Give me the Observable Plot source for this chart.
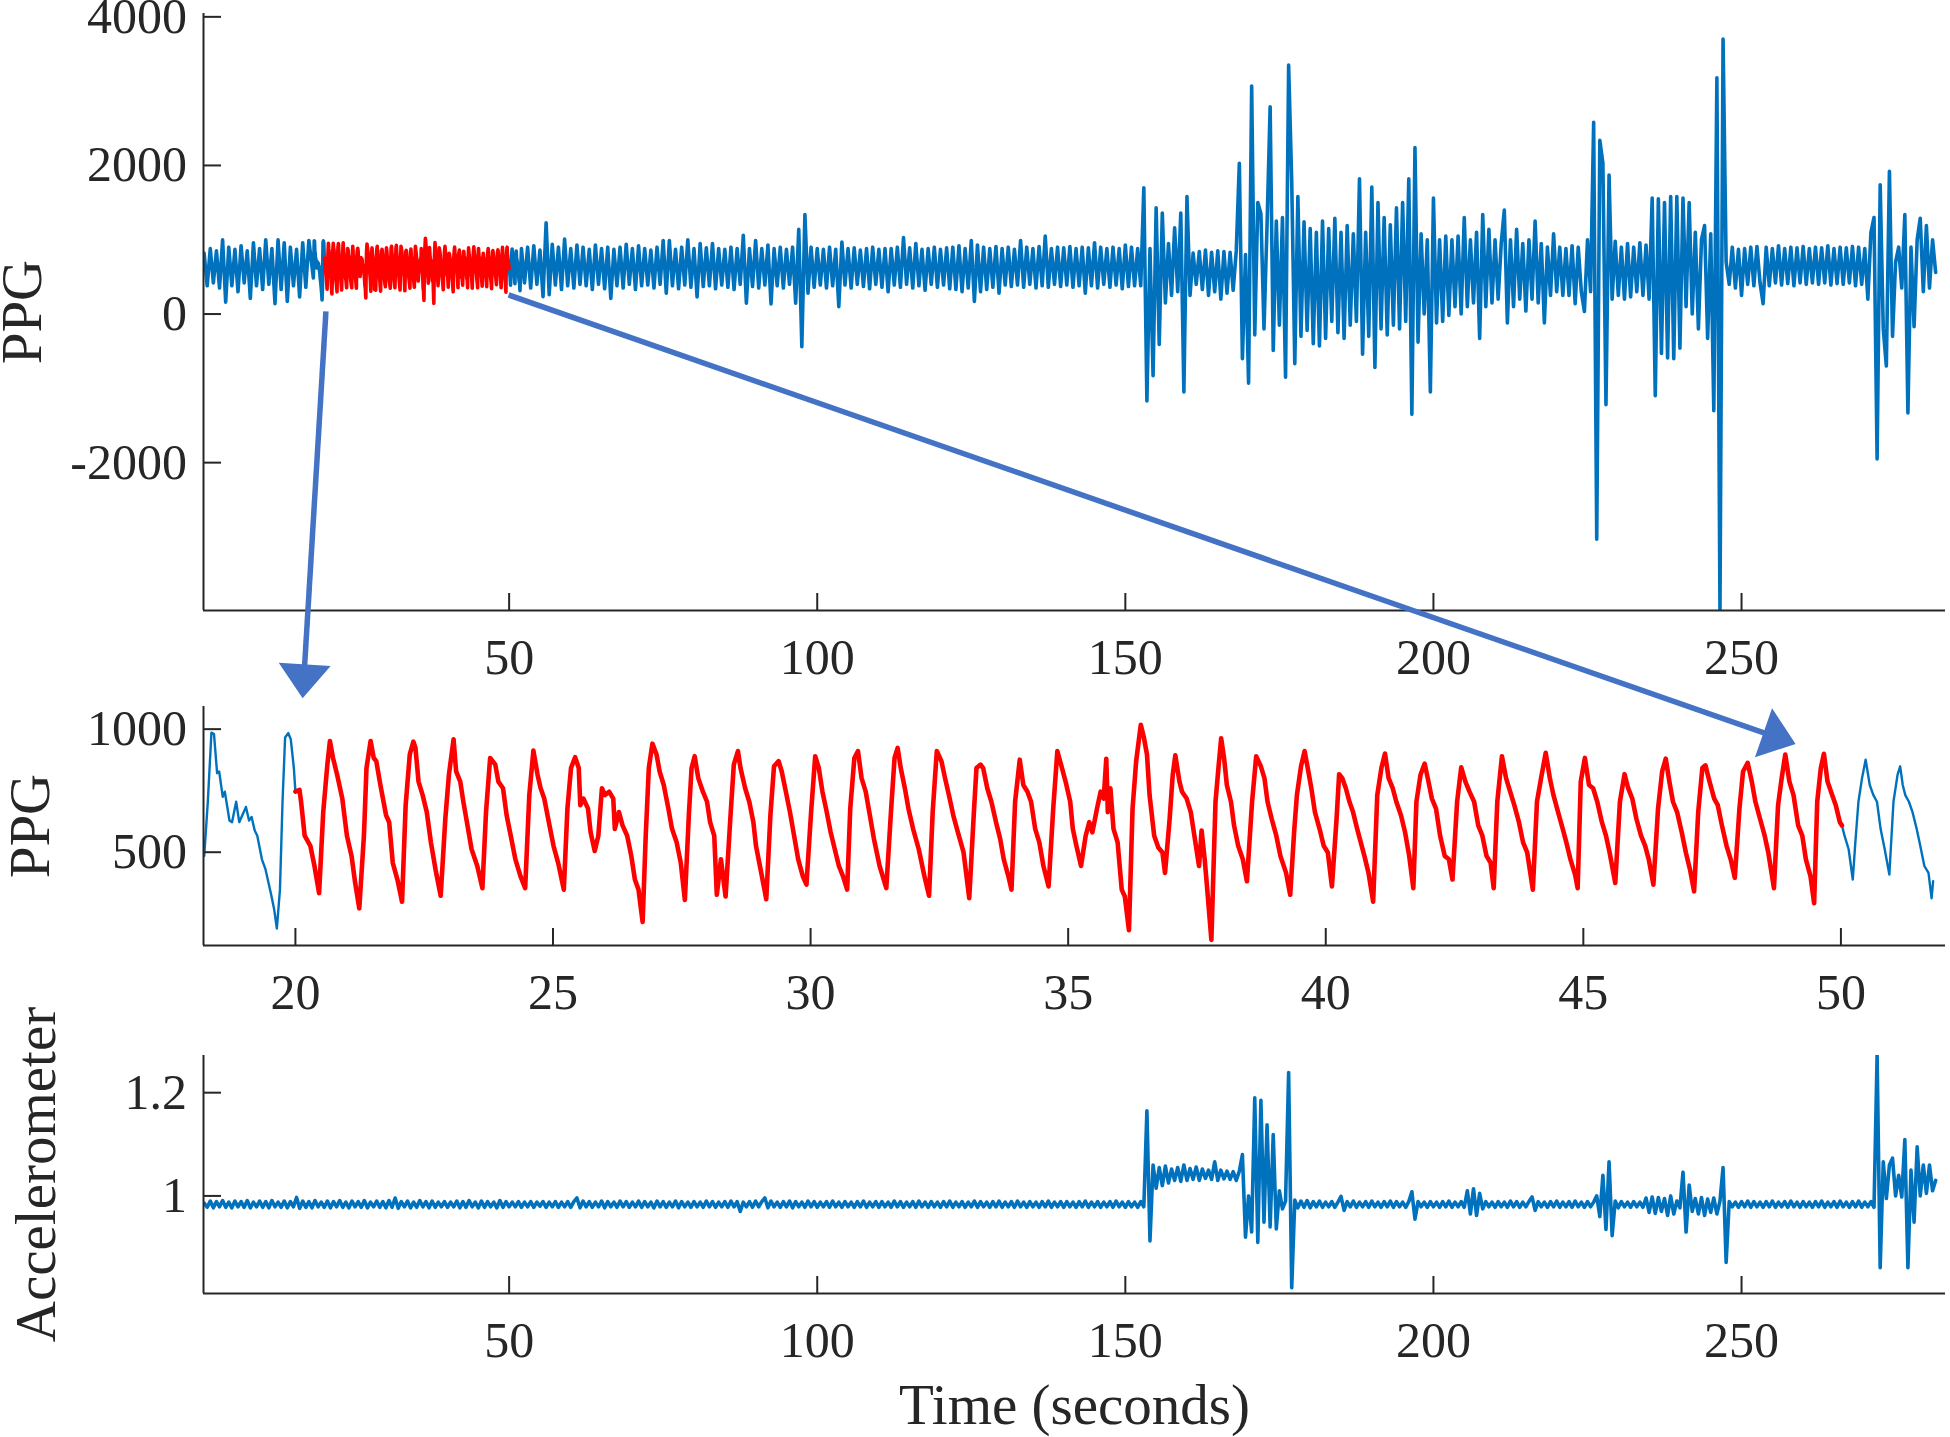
<!DOCTYPE html>
<html>
<head>
<meta charset="utf-8">
<script src="https://cdn.jsdelivr.net/npm/d3@7"></script>
<script src="https://cdn.jsdelivr.net/npm/@observablehq/plot@0.6"></script>
<style>
html, body { margin: 0; padding: 0; background: #ffffff; overflow: hidden; }
#wrap { position: relative; width: 1950px; height: 1437px; background: #ffffff; }
</style>
</head>
<body>
<div id="wrap"></div>
<script>
// ---------------- DATA ----------------
const ppgTopAStart = 0.5;
const ppgTopBStart = 52;
const ppgStep = 0.5;
const ppgTopA = [820,380,880,420,850,350,1000,160,900,380,870,300,920,420,850,210,960,380,880,330,
  1000,400,880,140,1000,330,960,170,900,380,870,230,960,360,990];
const ppgTopB = [
  880,420,900,350,920,400,860,233,1227,260,940,390,900,330,1010,380,880,350,930,400,
  900,380,870,330,930,400,880,340,900,210,870,380,900,350,940,400,880,330,920,380,
  880,390,860,350,900,400,990,280,990,380,870,340,900,390,1000,360,880,230,950,370,
  890,380,950,340,880,390,870,360,900,330,880,400,1060,145,880,370,990,350,880,390,
  930,135,880,380,900,350,870,400,900,145,1140,-440,1340,280,900,360,880,390,870,350,
  900,380,870,100,970,390,880,350,890,400,860,370,880,340,900,400,870,360,880,300,
  880,390,900,360,1030,400,890,350,950,380,870,320,880,400,900,360,870,390,890,340,
  900,330,920,300,880,350,990,170,930,300,900,330,880,360,910,280,880,390,900,370,
  870,390,990,360,900,400,880,350,910,380,1050,360,880,400,900,370,890,390,910,360,
  880,380,900,280,890,380,960,350,900,400,880,360,900,390,880,340,930,370,900,380,
  880,380,1700,-1170,880,-830,1430,-410,1360,150,950,250,1160,300,1360,-1050,1580,250,820,400,
  840,330,860,250,830,300,850,200,840,280,830,320,850,2030,-600,800,-930,3070,-280,1500,
  1350,-200,1200,2790,-490,1250,-150,1300,-850,3350,1790,-670,1580,-300,1240,-220,1150,-400,1100,-430,
  1250,-330,1150,-100,1290,-250,1100,-330,1190,-150,1080,-100,1820,-540,1100,-300,1710,-720,1500,-200,
  1300,-280,1200,-150,1430,-200,1500,-100,1820,-1350,2240,-380,1080,0,1000,-1050,1560,-120,1000,-100,
  1050,-20,1000,100,1050,0,1300,100,1000,150,1100,-330,1340,100,1140,150,1000,200,950,1400,
  -120,1000,100,1140,200,950,40,1000,200,1250,150,950,-120,900,250,1080,300,900,250,880,
  250,920,140,900,300,36,1000,300,2580,-3030,2340,2030,-1220,1870,200,980,250,900,200,950,
  230,900,300,960,250,930,200,1560,-1100,1550,-530,1500,-590,1580,-600,1580,-460,1560,100,1500,
  0,1100,-200,1000,1190,-330,1080,-1300,3180,-3970,3700,700,400,900,350,870,250,880,400,900,
  380,910,420,140,900,380,880,420,920,390,880,410,900,380,890,420,910,400,880,420,
  900,400,890,420,920,390,880,410,900,400,890,420,910,380,900,400,880,200,1100,1300,
  -1950,1740,-200,-700,1920,-300,700,900,350,1340,-1330,900,-170,1000,1290,300,1190,350,1000,560
];

// Middle panel: zoomed PPG, [seconds, value]
const ppgZoomPre = [[18.23,485],[18.30,705],[18.37,986],[18.42,980],[18.48,821],[18.52,828],[18.59,725],[18.63,746],
  [18.72,629],[18.77,622],[18.85,705],[18.91,622],[19.04,684],[19.10,629],[19.15,643],[19.21,588],[19.26,567],
  [19.35,471],[19.42,430],[19.53,327],[19.59,265],[19.64,190],[19.70,348],[19.75,705],[19.80,966],[19.86,984],
  [19.91,959],[19.97,842],[20.00,746]];
const ppgZoomRed = [[20.00,746],[20.08,753],[20.11,705],[20.18,567],[20.29,526],[20.37,444],[20.46,334],[20.54,663],[20.62,856],[20.67,952],
  [20.73,883],[20.81,815],[20.91,718],[21.00,567],[21.09,485],[21.16,375],[21.24,272],[21.33,567],[21.38,842],[21.46,952],
  [21.52,883],[21.57,870],[21.65,773],[21.76,650],[21.82,622],[21.89,457],[21.98,389],[22.07,299],[22.14,691],[22.22,897],
  [22.29,949],[22.33,924],[22.39,787],[22.47,732],[22.55,663],[22.63,540],[22.72,430],[22.82,323],[22.91,636],[22.98,815],
  [23.07,959],[23.12,828],[23.20,787],[23.26,705],[23.34,609],[23.42,512],[23.53,444],[23.63,354],[23.70,663],[23.78,883],
  [23.83,870],[23.88,856],[23.94,787],[24.03,760],[24.10,650],[24.18,567],[24.27,471],[24.37,402],[24.46,354],[24.54,732],
  [24.62,913],[24.70,815],[24.76,760],[24.83,718],[24.92,622],[25.01,526],[25.10,457],[25.21,348],[25.28,677],[25.35,842],
  [25.43,886],[25.50,842],[25.53,691],[25.59,718],[25.68,677],[25.73,581],[25.81,505],[25.88,567],[25.95,760],[26.01,732],
  [26.09,746],[26.17,718],[26.20,595],[26.28,663],[26.35,609],[26.44,567],[26.52,485],[26.59,389],[26.66,348],[26.74,217],
  [26.80,567],[26.86,842],[26.93,941],[27.01,897],[27.07,828],[27.15,773],[27.24,677],[27.31,595],[27.40,540],[27.48,457],
  [27.56,306],[27.64,663],[27.69,842],[27.75,890],[27.82,801],[27.91,746],[27.99,705],[28.05,622],[28.13,567],[28.18,327],
  [28.26,471],[28.35,320],[28.45,663],[28.51,856],[28.59,911],[28.64,842],[28.73,760],[28.81,705],[28.89,622],[28.94,526],
  [29.03,430],[29.14,309],[29.22,650],[29.29,849],[29.38,870],[29.44,828],[29.52,746],[29.60,663],[29.68,567],[29.76,471],
  [29.85,402],[29.92,368],[30.01,663],[30.09,890],[30.16,842],[30.23,746],[30.30,677],[30.39,581],[30.47,512],[30.55,444],
  [30.63,402],[30.71,348],[30.77,677],[30.85,883],[30.92,911],[30.99,801],[31.07,746],[31.14,663],[31.23,554],[31.34,444],
  [31.47,354],[31.56,663],[31.63,883],[31.69,924],[31.75,842],[31.83,760],[31.90,677],[31.99,595],[32.10,512],[32.21,402],
  [32.30,323],[32.37,663],[32.45,911],[32.54,870],[32.61,801],[32.70,718],[32.77,650],[32.86,581],[32.97,499],[33.08,313],
  [33.17,663],[33.22,842],[33.30,856],[33.35,842],[33.43,760],[33.51,705],[33.60,622],[33.68,554],[33.75,471],[33.84,402],
  [33.90,348],[33.97,705],[34.06,876],[34.13,773],[34.21,746],[34.28,705],[34.36,595],[34.44,540],[34.52,444],[34.62,361],
  [34.71,677],[34.79,911],[34.88,842],[34.95,787],[35.04,705],[35.09,595],[35.16,526],[35.25,444],[35.34,567],[35.41,622],
  [35.47,581],[35.56,677],[35.63,746],[35.69,718],[35.74,880],[35.77,663],[35.82,760],[35.88,595],[35.96,540],[36.04,348],
  [36.10,320],[36.18,183],[36.25,677],[36.32,870],[36.41,1018],[36.47,966],[36.53,897],[36.58,732],[36.67,567],[36.75,519],
  [36.83,499],[36.88,416],[36.97,636],[37.03,815],[37.08,894],[37.16,787],[37.21,746],[37.30,718],[37.38,663],[37.45,567],
  [37.54,444],[37.59,588],[37.65,471],[37.70,348],[37.78,144],[37.86,705],[37.92,849],[37.97,963],[38.03,876],[38.08,773],
  [38.16,705],[38.22,609],[38.30,526],[38.39,471],[38.47,382],[38.57,705],[38.65,890],[38.74,849],[38.81,801],[38.87,705],
  [38.95,636],[39.04,567],[39.12,485],[39.23,416],[39.31,327],[39.39,595],[39.44,732],[39.52,849],[39.59,911],[39.65,842],
  [39.72,760],[39.79,663],[39.88,595],[39.96,526],[40.04,499],[40.12,361],[40.21,636],[40.26,817],[40.32,801],[40.39,760],
  [40.46,705],[40.53,663],[40.61,595],[40.68,540],[40.75,485],[40.83,416],[40.92,299],[41.00,732],[41.08,842],[41.15,901],
  [41.22,801],[41.30,760],[41.37,705],[41.46,650],[41.54,581],[41.62,485],[41.70,354],[41.76,705],[41.84,815],[41.92,860],
  [41.98,801],[42.06,718],[42.14,677],[42.22,567],[42.31,485],[42.39,471],[42.46,389],[42.55,705],[42.63,845],[42.71,787],
  [42.79,746],[42.88,705],[42.96,609],[43.04,567],[43.12,485],[43.20,457],[43.26,354],[43.33,705],[43.42,890],[43.50,801],
  [43.58,746],[43.66,691],[43.75,622],[43.83,540],[43.91,499],[44.02,348],[44.10,705],[44.18,801],[44.27,904],[44.35,801],
  [44.42,732],[44.51,663],[44.60,595],[44.67,540],[44.75,471],[44.84,409],[44.89,354],[44.95,787],[45.03,883],[45.11,773],
  [45.19,760],[45.27,705],[45.36,622],[45.44,567],[45.51,499],[45.62,375],[45.71,705],[45.80,817],[45.87,760],[45.95,718],
  [46.03,636],[46.12,567],[46.20,526],[46.27,471],[46.36,368],[46.45,677],[46.53,828],[46.60,880],[46.67,787],[46.74,705],
  [46.82,663],[46.91,581],[46.99,499],[47.07,430],[47.15,341],[47.23,663],[47.31,842],[47.37,853],[47.45,787],[47.54,718],
  [47.61,691],[47.69,609],[47.78,526],[47.86,471],[47.94,396],[48.03,677],[48.10,828],[48.19,863],[48.27,787],[48.34,705],
  [48.43,636],[48.52,567],[48.59,499],[48.70,354],[48.78,691],[48.85,801],[48.92,897],[49.00,787],[49.08,732],[49.17,609],
  [49.25,567],[49.32,471],[49.41,402],[49.48,293],[49.54,705],[49.61,842],[49.67,900],[49.74,787],[49.83,732],[49.90,691],
  [49.98,622],[50.02,609]];
const ppgZoomPost = [[50.02,609],[50.07,567],[50.15,512],[50.23,389],[50.28,540],[50.34,705],[50.41,801],[50.48,876],
  [50.56,773],[50.63,732],[50.70,705],[50.77,595],[50.85,512],[50.94,409],[51.02,705],[51.10,815],[51.15,849],
  [51.20,773],[51.25,732],[51.32,705],[51.39,663],[51.47,595],[51.54,526],[51.62,444],[51.70,416],[51.76,313],[51.79,382]];

// Bottom panel: accelerometer, sampled every 0.5 s from 0.5 s
const accStart = 0.5;
const accStep = 0.5;
const accel = [
  .986,.978,.990,.977,.989,.979,.991,.978,.988,.977,.990,.979,.989,.978,.991,.977,.988,.979,.990,.978,
  .989,.977,.991,.979,.988,.978,.990,.977,.989,.979,.997,.976,.990,.978,.989,.977,.991,.979,.988,.978,
  .990,.977,.989,.979,.991,.978,.988,.977,.990,.979,.989,.978,.991,.977,.988,.979,.990,.978,.989,.977,
  .991,.978,.996,.976,.989,.979,.990,.977,.988,.978,.991,.979,.989,.977,.990,.978,.988,.979,.989,.978,
  .988,.979,.990,.977,.989,.978,.991,.979,.988,.977,.990,.978,.989,.979,.988,.977,.991,.978,.989,.979,
  .988,.979,.989,.978,.988,.979,.989,.978,.988,.980,.989,.978,.988,.979,.989,.978,.988,.979,.989,.978,
  .989,.996,.977,.990,.979,.989,.978,.988,.979,.990,.977,.989,.979,.988,.978,.990,.979,.989,.978,.988,
  .979,.990,.978,.989,.979,.988,.977,.990,.979,.989,.978,.988,.979,.990,.977,.989,.979,.988,.978,.989,
  .979,.988,.978,.990,.979,.989,.978,.988,.979,.989,.978,.990,.979,.989,.970,.988,.979,.989,.978,.990,
  .979,.989,.996,.977,.990,.979,.988,.978,.989,.979,.990,.977,.989,.979,.988,.978,.990,.979,.989,.978,
  .988,.979,.989,.978,.990,.979,.988,.978,.989,.979,.988,.978,.989,.979,.990,.978,.988,.979,.989,.978,
  .989,.979,.988,.978,.990,.979,.989,.978,.988,.979,.989,.978,.990,.979,.988,.978,.989,.979,.988,.978,
  .989,.979,.990,.978,.988,.979,.989,.978,.988,.979,.990,.978,.989,.979,.988,.978,.989,.979,.990,.978,
  .988,.979,.989,.978,.990,.979,.988,.978,.989,.979,.988,.978,.989,.979,.990,.978,.988,.979,.989,.978,
  .989,.979,.988,.978,.989,.979,.990,.978,.988,.979,.989,.978,.988,.979,.989,.978,.990,.979,.988,.978,
  .989,.979,.988,.978,.989,.979,1.165,.913,1.060,1.015,1.055,1.020,1.058,1.025,1.052,1.030,1.055,1.028,1.060,1.030,
  1.053,1.032,1.056,1.030,1.052,1.034,1.050,1.032,1.066,1.030,1.050,1.033,1.048,1.032,1.047,1.030,1.048,1.080,.920,1.000,
  .930,1.190,.910,1.185,.949,1.138,.940,1.119,.936,1.010,.975,.990,1.239,.822,.992,.977,.990,.978,.991,.977,
  .989,.979,.990,.978,.988,.979,.989,.978,.988,.999,.972,.989,.979,.990,.978,.988,.979,.989,.978,.990,
  .979,.988,.978,.989,.979,.990,.978,.989,.979,.988,.978,.989,1.008,.955,.989,.979,.988,.978,.989,.979,
  .988,.978,.989,.979,.990,.978,.988,.979,.989,.978,1.010,.965,1.014,.962,1.005,.975,.989,.979,.988,.978,
  .989,.979,.988,.978,.990,.979,.989,.978,.988,.979,.989,.998,.972,.989,.979,.988,.978,.989,.979,.990,
  .978,.988,.979,.989,.978,.990,.979,.988,.978,.989,.979,.988,1.000,.960,1.040,.935,1.066,.923,.990,.977,
  .989,.979,.988,.978,.989,.979,.988,.978,.996,.968,.998,.966,.997,.970,.995,.962,1.000,.965,.990,.977,
  1.046,.930,1.021,.970,.995,.965,.997,.962,.994,.968,.996,.965,.990,1.055,.871,.989,.979,.988,.978,.989,
  .979,.990,.978,.989,.979,.988,.978,.989,.979,.990,.978,.988,.979,.989,.978,.990,.979,.988,.978,.989,
  .979,.988,.978,.989,.979,.990,.978,.988,.979,.989,.978,.990,.979,.988,.978,.989,.979,.990,.978,.988,
  .979,.989,.978,1.272,.861,1.066,.995,1.060,1.073,1.000,1.040,.998,1.109,.861,1.050,.949,1.095,1.000,1.060,1.005,
  1.060,1.010,1.030
];

// Axes: domains and ticks
const topXDomain = [0.4, 283.1];
const topYDomain = [-3990, 4045];
const midXDomain = [18.216, 52.03];
const midYDomain = [121, 1092];
const accXDomain = [0.4, 283.1];
const accYDomain = [0.811, 1.272];
const topXTicks = [50, 100, 150, 200, 250];
const topYTicks = [-2000, 0, 2000, 4000];
const midXTicks = [20, 25, 30, 35, 40, 45, 50];
const midYTicks = [500, 1000];
const accXTicks = [50, 100, 150, 200, 250];
const accYTicks = [1, 1.2];
const labels = {top: "PPG", mid: "PPG", acc: "Accelerometer", x: "Time (seconds)"};

// Zoom arrows: from a point on the top panel to a point on the middle panel (data units)
const arrows = [
  {x1: 20.35, y1: 30, x2: 20.15, y2: 1123},
  {x1: 50.0, y1: 250, x2: 49.13, y2: 938}
];

// ---------------- STYLE / LAYOUT ----------------
const FONT = "'Liberation Serif', 'Times New Roman', serif";
const INK = "#262626";
const BLUE = "#0072BD";
const RED = "#FF0000";
const ARROW = "#4472C4";
const W = 1950, H = 1437, ML = 203, MR = 5;
// frame top / bottom of each panel (page pixels); every SVG covers the full page
const L = {
  top: {ft: 13, fb: 610, labelDx: -181},
  mid: {ft: 706, fb: 945, labelDx: -173},
  acc: {ft: 1055, fb: 1293, labelDx: -167}
};
const TICK_FS = 50, LABEL_FS = 57;

// ---------------- BUILD ----------------
const topBlue = [
  ...ppgTopA.map((v, i) => ({t: ppgTopAStart + i * ppgStep, v, seg: "a"})),
  ...ppgZoomPre.map(([t, v]) => ({t, v, seg: "a"})),
  ...ppgZoomPost.map(([t, v]) => ({t, v, seg: "b"})),
  ...ppgTopB.map((v, i) => ({t: ppgTopBStart + i * ppgStep, v, seg: "b"}))
];
const redRows = ppgZoomRed.map(([t, v]) => ({t, v}));
const preRows = ppgZoomPre.map(([t, v]) => ({t, v}));
const postRows = ppgZoomPost.map(([t, v]) => ({t, v}));
const accRows = accel.map((v, i) => ({t: accStart + i * accStep, v}));

const fmt = d => String(d);

function frameAxes(xDom, yDom, xTicks, yTicks) {
  return [
    Plot.ruleX([xDom[0]], {stroke: INK, strokeWidth: 2}),
    Plot.ruleY([yDom[0]], {stroke: INK, strokeWidth: 2}),
    Plot.axisX(xTicks, {label: null, tickSize: -17, tickPadding: 44.5, tickFormat: fmt,
      fontSize: TICK_FS, fontFamily: FONT, color: INK, strokeWidth: 2}),
    Plot.axisY(yTicks, {label: null, tickSize: -18, tickPadding: 34.5, tickFormat: fmt,
      fontSize: TICK_FS, fontFamily: FONT, color: INK, strokeWidth: 2})
  ];
}
function yLabel(text, dx) {
  return Plot.text([text], {text: d => d, frameAnchor: "left", dx, rotate: -90,
    textAnchor: "middle", lineAnchor: "middle",
    fontSize: LABEL_FS, fontFamily: FONT, fill: INK});
}
function panel(key, xDom, yDom, marks) {
  const p = L[key];
  return Plot.plot({
    width: W, height: H, marginTop: p.ft, marginBottom: H - p.fb,
    marginLeft: ML, marginRight: MR,
    style: {fontFamily: FONT, color: INK, background: "transparent"},
    x: {domain: xDom}, y: {domain: yDom},
    marks
  });
}

const wrap = document.getElementById("wrap");
function place(el) {
  el.style.position = "absolute";
  el.style.left = "0px";
  el.style.top = "0px";
  el.style.maxWidth = "none";
  wrap.appendChild(el);
}

const topPlot = panel("top", topXDomain, topYDomain, [
  Plot.line(topBlue, {x: "t", y: "v", z: "seg", stroke: BLUE, strokeWidth: 3.6, clip: true}),
  Plot.line(redRows, {x: "t", y: "v", stroke: RED, strokeWidth: 3.6, clip: true}),
  ...frameAxes(topXDomain, topYDomain, topXTicks, topYTicks),
  yLabel(labels.top, L.top.labelDx)
]);
place(topPlot);

const midPlot = panel("mid", midXDomain, midYDomain, [
  Plot.line(preRows, {x: "t", y: "v", stroke: BLUE, strokeWidth: 2.4, clip: true}),
  Plot.line(postRows, {x: "t", y: "v", stroke: BLUE, strokeWidth: 2.4, clip: true}),
  Plot.line(redRows, {x: "t", y: "v", stroke: RED, strokeWidth: 4.6, clip: true}),
  ...frameAxes(midXDomain, midYDomain, midXTicks, midYTicks),
  yLabel(labels.mid, L.mid.labelDx)
]);
place(midPlot);

const accPlot = panel("acc", accXDomain, accYDomain, [
  Plot.line(accRows, {x: "t", y: "v", stroke: BLUE, strokeWidth: 3.6, clip: true}),
  ...frameAxes(accXDomain, accYDomain, accXTicks, accYTicks),
  yLabel(labels.acc, L.acc.labelDx),
  Plot.text([labels.x], {text: d => d, frameAnchor: "bottom", dy: 112,
    textAnchor: "middle", lineAnchor: "middle",
    fontSize: LABEL_FS, fontFamily: FONT, fill: INK})
]);
place(accPlot);

// ---------------- ARROW OVERLAY (positions through the plots' scales) ----------------
function scaleFn(plot, name) {
  const s = plot.scale(name);
  if (s && typeof s.apply === "function") return v => s.apply(v);
  return d3.scaleLinear().domain(s.domain).range(s.range);
}
const tX = scaleFn(topPlot, "x"), tY = scaleFn(topPlot, "y");
const mX = scaleFn(midPlot, "x"), mY = scaleFn(midPlot, "y");

const overlay = d3.create("svg")
  .attr("width", W).attr("height", H)
  .style("position", "absolute").style("left", "0px").style("top", "0px")
  .style("pointer-events", "none");
const HEAD_LEN = 34, HEAD_W = 52;
for (const a of arrows) {
  const x1 = tX(a.x1), y1 = tY(a.y1);
  const x2 = mX(a.x2), y2 = mY(a.y2);
  const dx = x2 - x1, dy = y2 - y1, len = Math.hypot(dx, dy);
  const ux = dx / len, uy = dy / len, nx = -uy, ny = ux;
  const bx = x2 - ux * HEAD_LEN, by = y2 - uy * HEAD_LEN;
  overlay.append("line")
    .attr("x1", x1).attr("y1", y1).attr("x2", bx + ux * 2).attr("y2", by + uy * 2)
    .attr("stroke", ARROW).attr("stroke-width", 5.5);
  overlay.append("path")
    .attr("d", `M${x2},${y2}L${bx + nx * HEAD_W / 2},${by + ny * HEAD_W / 2}L${bx - nx * HEAD_W / 2},${by - ny * HEAD_W / 2}Z`)
    .attr("fill", ARROW);
}
wrap.appendChild(overlay.node());
</script>
</body>
</html>
